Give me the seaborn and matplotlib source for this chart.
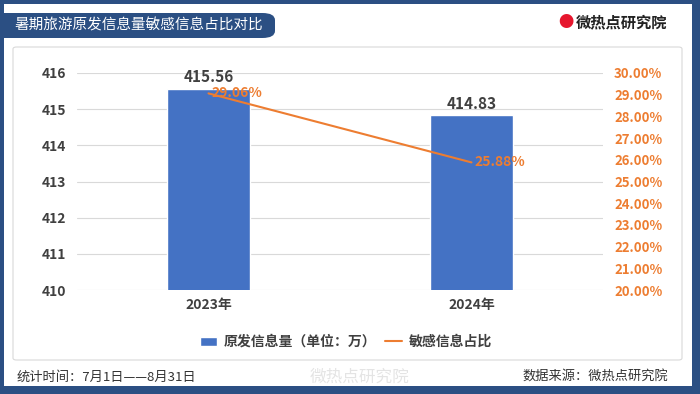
import matplotlib
matplotlib.use('Agg')
import matplotlib.pyplot as plt
import seaborn as sns
import pandas as pd
from matplotlib.patches import Rectangle, FancyBboxPatch
from matplotlib.ticker import FuncFormatter, MultipleLocator

# data
years = ['2023年', '2024年']
volume = [415.56, 414.83]       # 原发信息量（单位：万）
ratio = [29.06, 25.88]          # 敏感信息占比 %

sns.set_theme(style='white')
plt.rcParams['font.family'] = ['Noto Sans CJK SC', 'DejaVu Sans']

bar_color = '#4472c4'
line_color = '#ed7d31'
frame_color = '#2b4f83'
text_gray = '#404040'

df = pd.DataFrame({'year': years, 'volume': volume, 'ratio': ratio})

fig = plt.figure(figsize=(7, 3.94), dpi=100)
fig.patch.set_facecolor('white')

# dark frame around the picture
fig.patches.append(Rectangle((0, 0), 1, 1, transform=fig.transFigure,
                             facecolor=frame_color, edgecolor='none', zorder=-10))
fig.patches.append(Rectangle((4 / 700, 8 / 394), 688 / 700, 382 / 394, transform=fig.transFigure,
                             facecolor='white', edgecolor='none', zorder=-9))
# inner panel
fig.patches.append(FancyBboxPatch((13 / 700, 34 / 394), 669 / 700, 313 / 394,
                                  boxstyle='round,pad=0,rounding_size=0.005',
                                  transform=fig.transFigure, facecolor='white',
                                  edgecolor='#d9d9d9', linewidth=0.8, zorder=-8))
# title pill
fig.patches.append(FancyBboxPatch((-20 / 700, 356 / 394), 295 / 700, 25 / 394,
                                  boxstyle='round,pad=0,rounding_size=0.018',
                                  transform=fig.transFigure, facecolor=frame_color,
                                  edgecolor='none', zorder=-7))
fig.text(14 / 700, 368.5 / 394, '暑期旅游原发信息量敏感信息占比对比', color='white',
         fontsize=10.5, va='center', ha='left')

# logo
fig.text(566 / 700, 372 / 394, '●', color='#e6162d', fontsize=11, va='center', ha='center')
fig.text(576 / 700, 372 / 394, '微热点研究院', color='#222222', fontsize=11,
         fontweight='bold', va='center', ha='left')

ax = fig.add_axes([77 / 700, 104 / 394, 526 / 700, 217 / 394])
sns.barplot(data=df, x='year', y='volume', color=bar_color, width=0.315,
            ax=ax, label='原发信息量（单位：万）', saturation=1)
ax.set_ylim(410, 416)
ax.yaxis.set_major_locator(MultipleLocator(1))
ax.grid(axis='y', color='#d9d9d9', linewidth=0.8)
ax.set_axisbelow(True)
for s in ax.spines.values():
    s.set_visible(False)
ax.set_xlabel('')
ax.set_ylabel('')
ax.tick_params(axis='y', length=0, pad=8, labelsize=10, labelcolor=text_gray)
ax.tick_params(axis='x', length=0, pad=6, labelsize=10, labelcolor=text_gray)
for lab in ax.get_xticklabels() + ax.get_yticklabels():
    lab.set_fontweight('bold')
for i, v in enumerate(volume):
    ax.text(i, v + 0.1, f'{v:.2f}', ha='center', va='bottom', fontsize=11,
            fontweight='bold', color=text_gray)

ax2 = ax.twinx()
sns.lineplot(data=df, x='year', y='ratio', color=line_color, linewidth=1.5,
             ax=ax2, label='敏感信息占比', legend=False)
ax2.set_ylim(20, 30)
ax2.yaxis.set_major_locator(MultipleLocator(1))
ax2.yaxis.set_major_formatter(FuncFormatter(lambda v, p: f'{v:.2f}%'))
for s in ax2.spines.values():
    s.set_visible(False)
ax2.set_ylabel('')
ax2.tick_params(axis='y', length=0, pad=8, labelsize=9.5, labelcolor=line_color)
for lab in ax2.get_yticklabels():
    lab.set_fontweight('bold')
for i, r in enumerate(ratio):
    ax2.text(i + 0.01, r, f'{r:.2f}%', ha='left', va='center', fontsize=10,
             fontweight='bold', color=line_color)
ax.set_xlim(-0.5, 1.5)

# legend
h1, l1 = ax.get_legend_handles_labels()
h2, l2 = ax2.get_legend_handles_labels()
if ax.get_legend():
    ax.get_legend().remove()
leg = fig.legend(h1 + h2, l1 + l2, loc='center', bbox_to_anchor=(346 / 700, 52 / 394),
                 ncol=2, frameon=False, fontsize=10, handlelength=1.2, handleheight=0.6,
                 columnspacing=0.6, handletextpad=0.5)
for t in leg.get_texts():
    t.set_color(text_gray)
    t.set_fontweight('bold')

# footer
fig.text(17 / 700, 17 / 394, '统计时间：7月1日——8月31日', color='#333333', fontsize=9.5,
         va='center', ha='left')
fig.text(668 / 700, 17 / 394, '数据来源：微热点研究院', color='#333333', fontsize=9.5,
         va='center', ha='right')
fig.text(360 / 700, 17 / 394, '微热点研究院', color='#e4e4e4', fontsize=12,
         va='center', ha='center')

fig.savefig('out.png', dpi=100)
